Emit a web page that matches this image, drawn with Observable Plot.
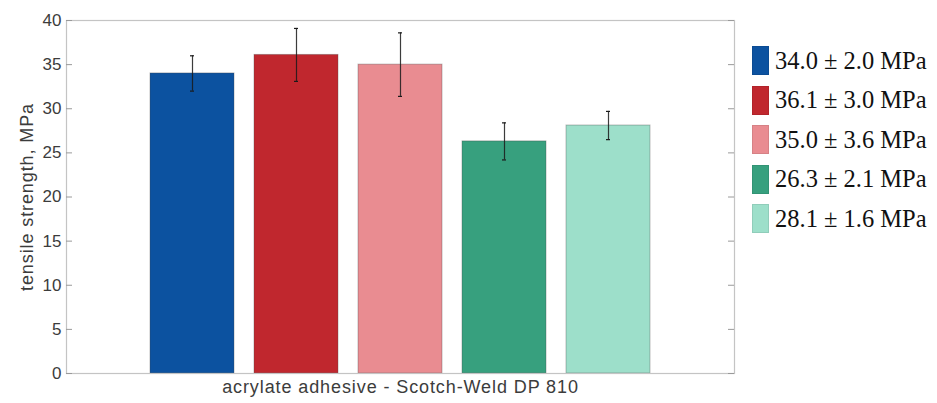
<!DOCTYPE html>
<html>
<head>
<meta charset="utf-8">
<script src="https://cdn.jsdelivr.net/npm/d3@7"></script>
<script src="https://cdn.jsdelivr.net/npm/@observablehq/plot@0.6"></script>
<style>
  html, body { margin: 0; padding: 0; background: #fff; }
  #wrap { position: relative; width: 937px; height: 403px; }
  #legend { position: absolute; left: 752px; top: 46px; font-family: "Liberation Serif", "Times New Roman", serif; font-size: 24.5px; color: #111; }
  .item { display: flex; align-items: center; height: 29px; margin-bottom: 10.5px; }
  .sw { width: 17px; height: 29px; margin-right: 6px; box-sizing: border-box; }
  .lab { letter-spacing: 0.9px; }
</style>
</head>
<body>
<div id="wrap"></div>
<script>
const samples = ["S1", "S2", "S3", "S4", "S5"];
const means = [34.0, 36.1, 35.0, 26.3, 28.1];
const errors = [2.0, 3.0, 3.6, 2.1, 1.6];
const colors = ["#0c52a0", "#c0272e", "#e98c91", "#37a07e", "#9ddfca"];
const legendLabels = ["34.0 ± 2.0 MPa", "36.1 ± 3.0 MPa", "35.0 ± 3.6 MPa", "26.3 ± 2.1 MPa", "28.1 ± 1.6 MPa"];
const yTicks = [0, 5, 10, 15, 20, 25, 30, 35, 40];
const yLabel = "tensile strength, MPa";
const xLabel = "acrylate adhesive - Scotch-Weld DP 810";

const data = samples.map((s, i) => ({s, m: means[i], lo: means[i] - errors[i], hi: means[i] + errors[i]}));

const chart = Plot.plot({
  width: 937,
  height: 403,
  marginTop: 20,
  marginBottom: 30,
  marginLeft: 66,
  marginRight: 203,
  style: {fontFamily: "'Liberation Sans', Arial, sans-serif", background: "#fff"},
  x: {domain: samples, paddingInner: 0.195, paddingOuter: 0.797, axis: null},
  y: {domain: [0, 40], axis: null},
  color: {domain: samples, range: colors},
  marks: [
    Plot.barY(data, {x: "s", y: "m", fill: "s", stroke: "#444", strokeOpacity: 0.35, strokeWidth: 1}),
    Plot.ruleX(data, {x: "s", y1: "lo", y2: "hi", stroke: "#1a1a1a", strokeWidth: 1.2, strokeOpacity: 0.85}),
    Plot.tickY(data, {x: "s", y: "lo", stroke: "#1a1a1a", strokeWidth: 1.2, inset: 40}),
    Plot.tickY(data, {x: "s", y: "hi", stroke: "#1a1a1a", strokeWidth: 1.2, inset: 40}),
    Plot.frame({stroke: "#c4c4c4", strokeWidth: 1.2}),
    Plot.tickY(yTicks, {y: d => d, stroke: "#9a9a9a", insetRight: 662}),
    Plot.tickY(yTicks, {y: d => d, stroke: "#9a9a9a", insetLeft: 662}),
    Plot.axisY({ticks: yTicks, tickSize: 0, tickPadding: 5, fontSize: 17, fill: "#3c3c3c", label: null}),
    Plot.text([yLabel], {frameAnchor: "left", textAnchor: "middle", rotate: -90, dx: -39, fontSize: 18, fill: "#3c3c3c", className: "lab"}),
    Plot.text([xLabel], {frameAnchor: "bottom", textAnchor: "middle", dy: 19, fontSize: 18, fill: "#3c3c3c", className: "lab"})
  ]
});

const wrap = document.getElementById("wrap");
wrap.appendChild(chart);

const legend = document.createElement("div");
legend.id = "legend";
legendLabels.forEach((lab, i) => {
  const item = document.createElement("div");
  item.className = "item";
  const sw = document.createElement("div");
  sw.className = "sw";
  sw.style.background = colors[i];
  sw.style.border = "1px solid rgba(0,0,0,0.08)";
  const t = document.createElement("span");
  t.textContent = lab;
  item.appendChild(sw);
  item.appendChild(t);
  legend.appendChild(item);
});
wrap.appendChild(legend);
</script>
</body>
</html>
